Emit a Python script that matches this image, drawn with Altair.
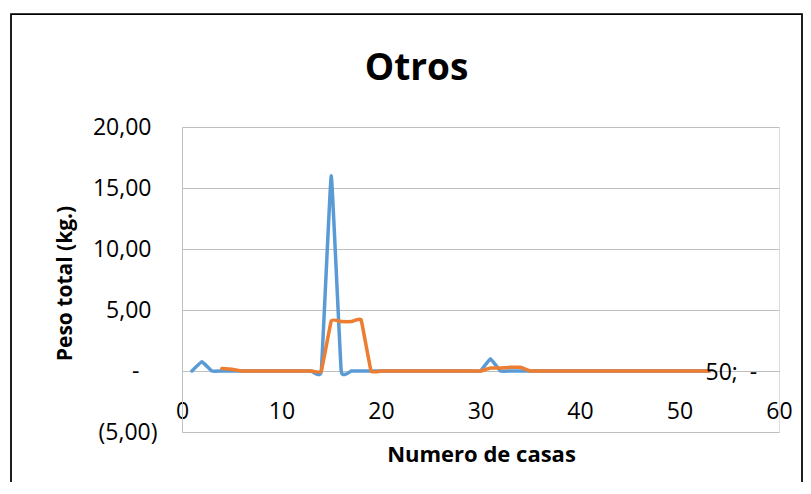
import altair as alt
import pandas as pd

# --- data ---
casas_azul = [1, 2, 3, 4, 5, 6, 7, 8, 9, 10, 11, 12, 13, 14, 15, 16, 17, 18, 19, 20,
              21, 22, 23, 24, 25, 26, 27, 28, 29, 30, 31, 32, 33, 34, 35, 36, 37, 38, 39, 40,
              41, 42, 43, 44, 45, 46, 47, 48, 49, 50, 51, 52, 53]
peso_azul = [0, 0.75, 0, 0, 0, 0, 0, 0, 0, 0, 0, 0, 0, 0, 16.0, 0, 0, 0, 0, 0,
             0, 0, 0, 0, 0, 0, 0, 0, 0, 0, 1.0, 0, 0, 0, 0, 0, 0, 0, 0, 0,
             0, 0, 0, 0, 0, 0, 0, 0, 0, 0, 0, 0, 0]

casas_naranja = [4, 5, 6, 7, 8, 9, 10, 11, 12, 13, 14, 15, 16, 17, 18, 19, 20,
                 21, 22, 23, 24, 25, 26, 27, 28, 29, 30, 31, 32, 33, 34, 35, 36, 37, 38, 39, 40,
                 41, 42, 43, 44, 45, 46, 47, 48, 49, 50, 51, 52, 53]
peso_naranja = [0.2, 0.15, 0, 0, 0, 0, 0, 0, 0, 0, 0, 4.1, 4.05, 4.05, 4.2, 0, 0,
                0, 0, 0, 0, 0, 0, 0, 0, 0, 0, 0.25, 0.25, 0.3, 0.3, 0, 0, 0, 0, 0, 0,
                0, 0, 0, 0, 0, 0, 0, 0, 0, 0, 0, 0, 0]

etiqueta_x = [50]
etiqueta_y = [0]
etiqueta_texto = ["50;\u00a0\u00a0-"]

y_ticks = [-5, 0, 5, 10, 15, 20]
x_ticks = [0, 10, 20, 30, 40, 50, 60]

FONT = "Open Sans"
GRID = "#bfbfbf"

df_azul = pd.DataFrame({"casa": casas_azul, "peso": peso_azul})
df_naranja = pd.DataFrame({"casa": casas_naranja, "peso": peso_naranja})
df_label = pd.DataFrame({"casa": etiqueta_x, "peso": etiqueta_y, "texto": etiqueta_texto})

y_label_expr = (
    "datum.value == 0 ? '-' : "
    "(datum.value < 0 ? '(' + replace(format(-datum.value, '.2f'), '.', ',') + ')' : "
    "replace(format(datum.value, '.2f'), '.', ','))"
)

x_enc = alt.X(
    "casa:Q",
    scale=alt.Scale(domain=[0, 60], nice=False, zero=False),
    axis=alt.Axis(
        values=x_ticks, grid=False, ticks=False, offset=-61, labelFlush=False,
        domainColor=GRID, domainWidth=1,
        labelFont=FONT, labelFontSize=23, labelColor="black", labelPadding=29,
        title="Numero de casas", titleFont=FONT, titleFontSize=22,
        titleFontWeight="bold", titleColor="black",
        titleBaseline="alphabetic", titleY=90, titleX=299,
    ),
)
y_enc = alt.Y(
    "peso:Q",
    scale=alt.Scale(domain=[-5, 20], nice=False, zero=False),
    axis=alt.Axis(
        values=y_ticks, grid=True, gridColor=GRID, gridWidth=1, ticks=False,
        domainColor=GRID, domainWidth=1,
        labelFont=FONT, labelFontSize=23, labelColor="black",
        labelPadding={
            "condition": [
                {"test": "datum.value < 0", "value": 25},
                {"test": "datum.value == 0", "value": 43},
            ],
            "value": 31,
        },
        labelExpr=y_label_expr,
        title="Peso total (kg.)", titleFont=FONT, titleFontSize=21,
        titleFontWeight="bold", titleColor="black",
        titleX=-117, titleY=156, titleAngle=270,
        titleBaseline="middle", titleAlign="center",
    ),
)

line_azul = alt.Chart(df_azul).mark_line(
    color="#5B9BD5", strokeWidth=3.5, interpolate="cardinal", tension=0.75,
    strokeCap="round", strokeJoin="round"
).encode(x=x_enc, y=y_enc)

line_naranja = alt.Chart(df_naranja).mark_line(
    color="#ED7D31", strokeWidth=3.5, interpolate="cardinal", tension=0.75,
    strokeCap="round", strokeJoin="round"
).encode(x="casa:Q", y="peso:Q")

etiqueta = alt.Chart(df_label).mark_text(
    font=FONT, fontSize=23, color="black", align="left", baseline="alphabetic",
    dx=26, dy=9
).encode(x="casa:Q", y="peso:Q", text="texto:N")

borde = alt.Chart(pd.DataFrame({"a": [0]})).mark_rect(
    fill="transparent", stroke="black", strokeWidth=1.75
).encode(
    x=alt.value(-171), x2=alt.value(620), y=alt.value(-113), y2=alt.value(420)
)

chart = alt.layer(borde, line_azul, line_naranja, etiqueta).properties(
    width=597,
    height=305,
    autosize=alt.AutoSizeParams(type="none"),
    padding={"left": 174, "top": 119, "right": 24, "bottom": 50},
    title=alt.TitleParams(
        "Otros", font=FONT, fontSize=37, fontWeight="bold", color="black",
        anchor="middle", dx=-64, baseline="alphabetic", offset=-104,
    ),
).configure_view(strokeOpacity=0).configure(background="white")

chart.save("out.html", embed_options={"renderer": "svg", "actions": False})
